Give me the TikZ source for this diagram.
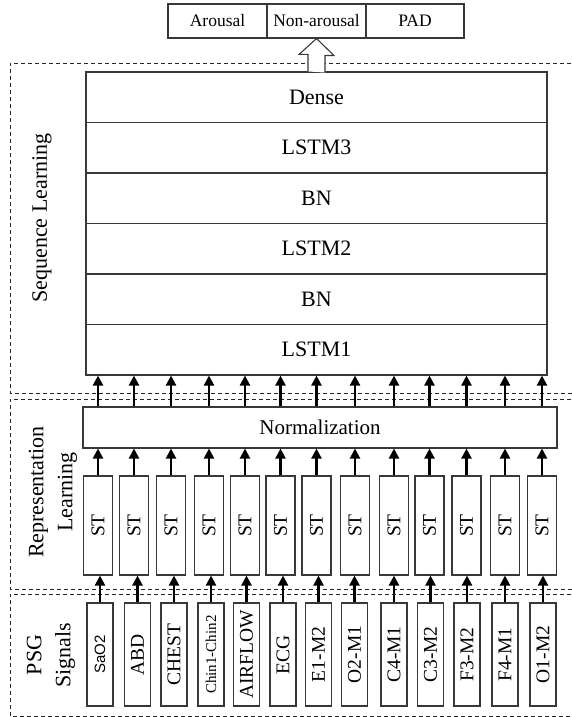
\documentclass[tikz,border=0pt]{standalone}
\usepackage{fontspec}
\setmainfont{Liberation Serif}
\newfontfamily\arialf{Liberation Sans}
\usetikzlibrary{arrows.meta}
\begin{document}
\begin{tikzpicture}[x=1pt,y=-1pt,
  boxline/.style={draw=black!78, line width=1.1pt},
  layer/.style={boxline, minimum width=461pt, minimum height=50.5pt, inner sep=0pt, font=\fontsize{22}{25}\selectfont},
  outbox/.style={boxline, minimum height=34pt, inner sep=0pt, font=\fontsize{17.5}{20}\selectfont},
  normbox/.style={boxline, minimum width=474pt, minimum height=41pt, inner sep=0pt, font=\fontsize{21}{24}\selectfont},
  stbox/.style={boxline, minimum width=29pt, minimum height=99pt, inner sep=0pt, font=\fontsize{19.5}{22}\selectfont},
  psgbox/.style={boxline, minimum width=26pt, minimum height=103pt, inner sep=0pt, font=\fontsize{19.5}{22}\selectfont},
  dashbox/.style={draw=black!85, line width=0.9pt, dash pattern=on 4pt off 3pt},
  sidelabel/.style={font=\fontsize{22}{29}\selectfont, rotate=90, align=center},
  arr/.style={line width=2.2pt, -{Triangle[width=10pt,length=10pt]}},
  hollow/.style={boxline, fill=white, line join=miter}
]
\useasboundingbox (0,0) rectangle (571,717);

% dashed group frames
\draw[dashbox] (585,63) -- (10,63) -- (10,393) -- (585,393);
\draw[dashbox] (585,399) -- (10,399) -- (10,589) -- (585,589);
\draw[dashbox] (585,594) -- (10,594) -- (10,716) -- (585,716);

% side labels
\node[sidelabel] (lseq) at (42,218) {Sequence Learning};
\node[sidelabel] (lrep) at (53,492) {Representation\\Learning};
\node[sidelabel] (lpsg) at (51,655) {PSG\\Signals};

% output boxes
\node[outbox, minimum width=99pt] (ar) at (217.5,21) {Arousal};
\node[outbox, minimum width=99pt] (na) at (316.5,21) {Non-arousal};
\node[outbox, minimum width=98pt] (pad) at (415,21) {PAD};

% sequence stack
\node[layer] (dense) at (316.5,97.25) {Dense};
\node[layer] (lstm3) at (316.5,147.75) {LSTM3};
\node[layer] (bn2) at (316.5,198.25) {BN};
\node[layer] (lstm2) at (316.5,248.75) {LSTM2};
\node[layer] (bn1) at (316.5,299.25) {BN};
\node[layer] (lstm1) at (316.5,349.75) {LSTM1};

% hollow arrow to outputs
\draw[hollow] ([xshift=-8.5pt]dense.north) -- ++(0,-17) -- ++(-9,0) -- (na.south) -- ++(17.5,17) -- ++(-9,0) -- ++(0,17);

% normalization
\node[normbox] (norm) at (320,427.5) {Normalization};

% ST and PSG columns
\foreach \i/\sx/\px/\lab in {
  1/98/100/{\fontsize{15}{18}\selectfont\arialf SaO2},
  2/134/137.5/ABD,
  3/171/174/CHEST,
  4/209/211/{\fontsize{15}{18}\selectfont Chin1-Chin2},
  5/245/246.5/AIRFLOW,
  6/280.5/283/ECG,
  7/316.5/318.5/E1-M2,
  8/355/354.5/O2-M1,
  9/394/394/C4-M1,
  10/429.5/430.5/C3-M2,
  11/466.5/467/F3-M2,
  12/505/505/F4-M1,
  13/542/543/O1-M2}{
  \node[stbox] (s\i) at (\sx,525.5) {\rotatebox{90}{ST}};
  \node[psgbox] (p\i) at (\px,654.5) {\rotatebox{90}{\lab}};
}

% arrows
\foreach \i in {1,...,13}{
  \draw[arr] (p\i.north) -- (p\i.north |- s\i.south);
  \draw[arr] (s\i.north) -- (s\i.north |- norm.south);
  \draw[arr] (s\i.north |- norm.north) -- (s\i.north |- lstm1.south);
}
\end{tikzpicture}
\end{document}
